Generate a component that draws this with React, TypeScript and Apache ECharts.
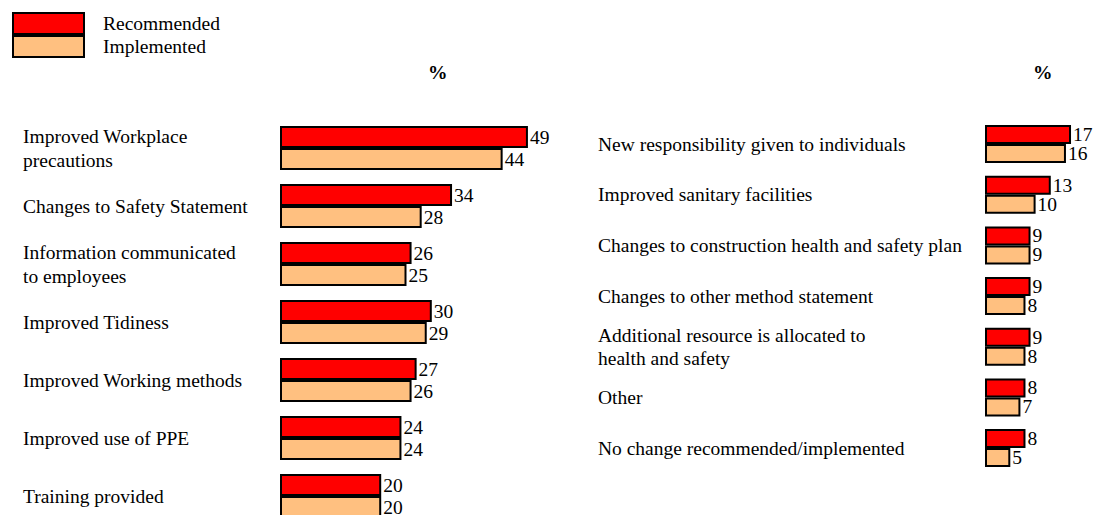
import React, { useEffect, useRef } from "react";
import * as echarts from "echarts";

const leftCategories = [
  "Improved Workplace\nprecautions",
  "Changes to Safety Statement",
  "Information communicated\nto employees",
  "Improved Tidiness",
  "Improved Working methods",
  "Improved use of PPE",
  "Training provided",
];
const leftRecommended = [49, 34, 26, 30, 27, 24, 20];
const leftImplemented = [44, 28, 25, 29, 26, 24, 20];

const rightCategories = [
  "New responsibility given to individuals",
  "Improved sanitary facilities",
  "Changes to construction health and safety plan",
  "Changes to other method statement",
  "Additional resource is allocated to\nhealth and safety",
  "Other",
  "No change recommended/implemented",
];
const rightRecommended = [17, 13, 9, 9, 9, 8, 8];
const rightImplemented = [16, 10, 9, 8, 8, 7, 5];

const FONT = "'Liberation Serif', 'Times New Roman', serif";
const FS = 19.5;
const RED = "#FF0000";
const PEACH = "#FFC080";

export default function App() {
  const ref = useRef<HTMLDivElement>(null);
  useEffect(() => {
    if (!ref.current) return;
    const chart = echarts.init(ref.current, undefined, { renderer: "svg" });
    const label = {
      show: true,
      position: "right",
      distance: 2,
      color: "#000",
      fontFamily: FONT,
      fontSize: FS,
    };
    const mk = (name: string, data: number[], color: string, idx: number, bw: number) => ({
      name,
      type: "bar",
      xAxisIndex: idx,
      yAxisIndex: idx,
      data,
      barWidth: bw,
      barGap: "0%",
      itemStyle: { color, borderColor: "#000", borderWidth: 2 },
      label,
    });
    chart.setOption({
      animation: false,
      backgroundColor: "#fff",
      textStyle: { fontFamily: FONT },
      legend: {
        orient: "vertical",
        left: 12,
        top: 12,
        padding: 0,
        itemWidth: 71,
        itemHeight: 21,
        itemGap: 0,
        icon: "rect",
        data: ["Recommended", "Implemented"],
        itemStyle: { borderColor: "#000", borderWidth: 2 },
        textStyle: {
          fontFamily: FONT,
          fontSize: FS,
          color: "#000",
          lineHeight: 18,
          padding: [0, 0, 0, 14],
        },
      },
      grid: [
        { left: 280, top: 119, width: 253, height: 406 },
        { left: 985, top: 118.7, width: 101.2, height: 354.7 },
      ],
      xAxis: [
        { type: "value", gridIndex: 0, min: 0, max: 50, show: false },
        { type: "value", gridIndex: 1, min: 0, max: 20, show: false },
      ],
      yAxis: [
        {
          type: "category",
          gridIndex: 0,
          inverse: true,
          data: leftCategories,
          axisLine: { show: false },
          axisTick: { show: false },
          axisLabel: {
            align: "left",
            margin: 257,
            color: "#000",
            fontFamily: FONT,
            fontSize: FS,
            lineHeight: 24,
          },
        },
        {
          type: "category",
          gridIndex: 1,
          inverse: true,
          data: rightCategories,
          axisLine: { show: false },
          axisTick: { show: false },
          axisLabel: {
            align: "left",
            margin: 387,
            color: "#000",
            fontFamily: FONT,
            fontSize: FS,
            lineHeight: 23,
          },
        },
      ],
      graphic: [
        {
          type: "text",
          left: 428,
          top: 62,
          style: { text: "%", fontFamily: FONT, fontSize: FS, fontWeight: "bold", fill: "#000" },
        },
        {
          type: "text",
          left: 1033,
          top: 62,
          style: { text: "%", fontFamily: FONT, fontSize: FS, fontWeight: "bold", fill: "#000" },
        },
      ],
      series: [
        mk("Recommended", leftRecommended, RED, 0, 22),
        mk("Implemented", leftImplemented, PEACH, 0, 22),
        mk("Recommended", rightRecommended, RED, 1, 19),
        mk("Implemented", rightImplemented, PEACH, 1, 19),
      ],
    });
    return () => chart.dispose();
  }, []);
  return (
    <div
      ref={ref}
      style={{ position: "fixed", left: 0, top: 0, width: 1096, height: 540 }}
    />
  );
}
